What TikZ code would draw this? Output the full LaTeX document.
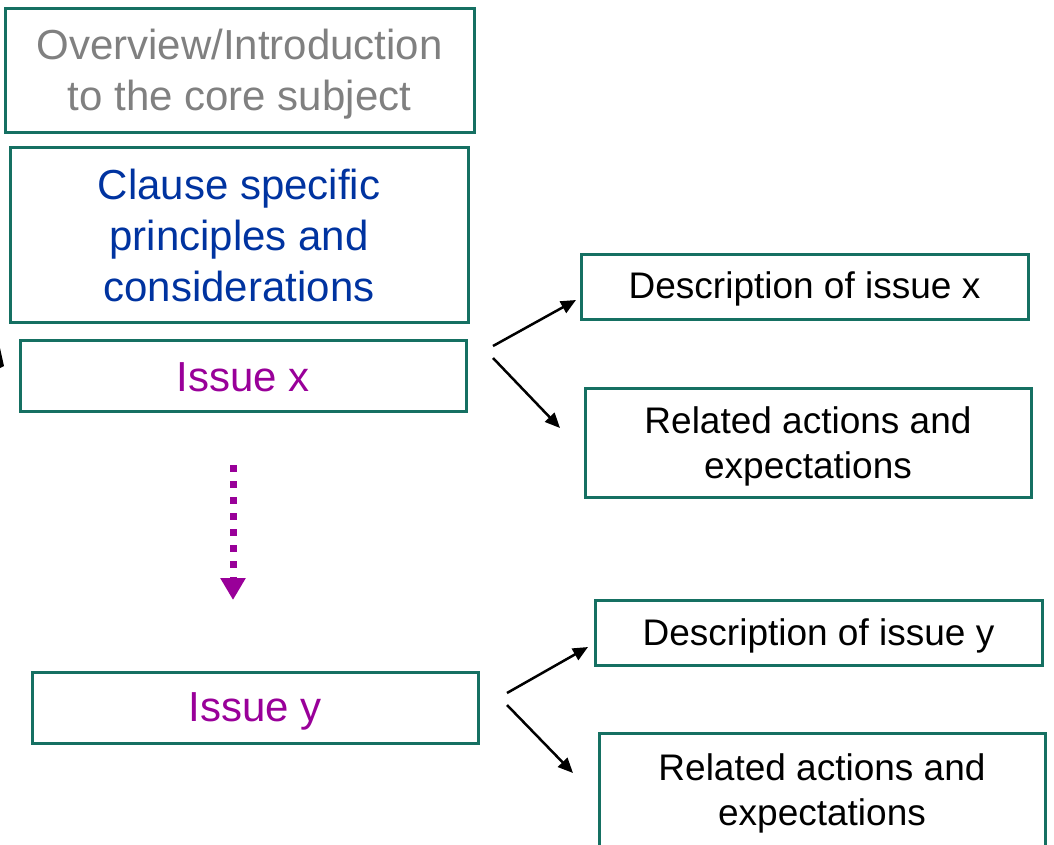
\documentclass[tikz,border=0pt]{standalone}
\usepackage{fontspec}
\setmainfont{Liberation Sans}
\usetikzlibrary{arrows.meta}
\definecolor{boxgreen}{HTML}{157062}
\definecolor{issuepurple}{HTML}{990099}
\definecolor{clauseblue}{HTML}{0033A0}
\definecolor{introgray}{HTML}{808080}
\tikzset{
  box/.style={draw=boxgreen, line width=3pt, inner sep=0pt, anchor=center},
  txt/.style={inner sep=0pt, align=center, anchor=center},
  big/.style={font=\fontsize{42}{51}\selectfont},
  small/.style={font=\fontsize{37}{45}\selectfont},
  conn/.style={line width=2.5pt, -{Triangle[length=15pt,width=13pt]}},
  flow/.style={issuepurple, line width=7pt, dash pattern=on 7pt off 9pt, -{Triangle[length=22pt,width=24pt]}}
}
\begin{document}
\begin{tikzpicture}[x=1pt,y=-1pt]
\useasboundingbox (0,0) rectangle (1054,844);
\clip (0,0) rectangle (1054,844);
% left cut-off arrowhead fragment
\fill (0,348) -- (4,366) -- (0,368) -- cycle;

\node[box, minimum width=469pt, minimum height=124pt] (intro) at (239.5,70) {};
\node[txt, big, text=introgray, yshift=-4pt] (introt) at (intro.center) {Overview/Introduction\\to the core subject};
\node[box, minimum width=458pt, minimum height=175pt] (clause) at (239,234.5) {};
\node[txt, big, text=clauseblue, yshift=-1pt] (clauset) at (clause.center) {Clause specific\\principles and\\considerations};
\node[box, minimum width=446pt, minimum height=71pt] (issuex) at (243,375.5) {};
\node[txt, big, text=issuepurple, yshift=-2pt] (issuext) at (issuex.center) {Issue x};
\node[box, minimum width=447pt, minimum height=65pt] (descx) at (804.5,286.5) {};
\node[txt, small, yshift=-2pt] (descxt) at (descx.center) {Description of issue x};
\node[box, minimum width=446pt, minimum height=109pt] (relx) at (808,442.5) {};
\node[txt, small, yshift=-4pt] (relxt) at (relx.center) {Related actions and\\expectations};

\node[box, minimum width=446pt, minimum height=71pt] (issuey) at (255,707.5) {};
\node[txt, big, text=issuepurple, yshift=-4pt] (issueyt) at (issuey.center) {Issue y};
\node[box, minimum width=447pt, minimum height=65pt] (descy) at (818.5,632.5) {};
\node[txt, small, yshift=-3pt] (descyt) at (descy.center) {Description of issue y};
\node[box, minimum width=446pt, minimum height=114pt] (rely) at (822,790) {};
\node[txt, small, yshift=-3pt] (relyt) at (rely.center) {Related actions and\\expectations};

\coordinate (ax1) at (493,346);
\coordinate (ax2) at (493,358);
\coordinate (tx1) at (576,300);
\coordinate (tx2) at (560,428);
\draw[conn] (ax1) -- (tx1);
\draw[conn] (ax2) -- (tx2);

\coordinate (ay1) at (507,693);
\coordinate (ay2) at (507,705);
\coordinate (ty1) at (588,647);
\coordinate (ty2) at (573,773);
\draw[conn] (ay1) -- (ty1);
\draw[conn] (ay2) -- (ty2);

\coordinate (fs) at (233,465);
\coordinate (fe) at (233,600);
\draw[flow] (fs) -- (fe);
\end{tikzpicture}
\end{document}
